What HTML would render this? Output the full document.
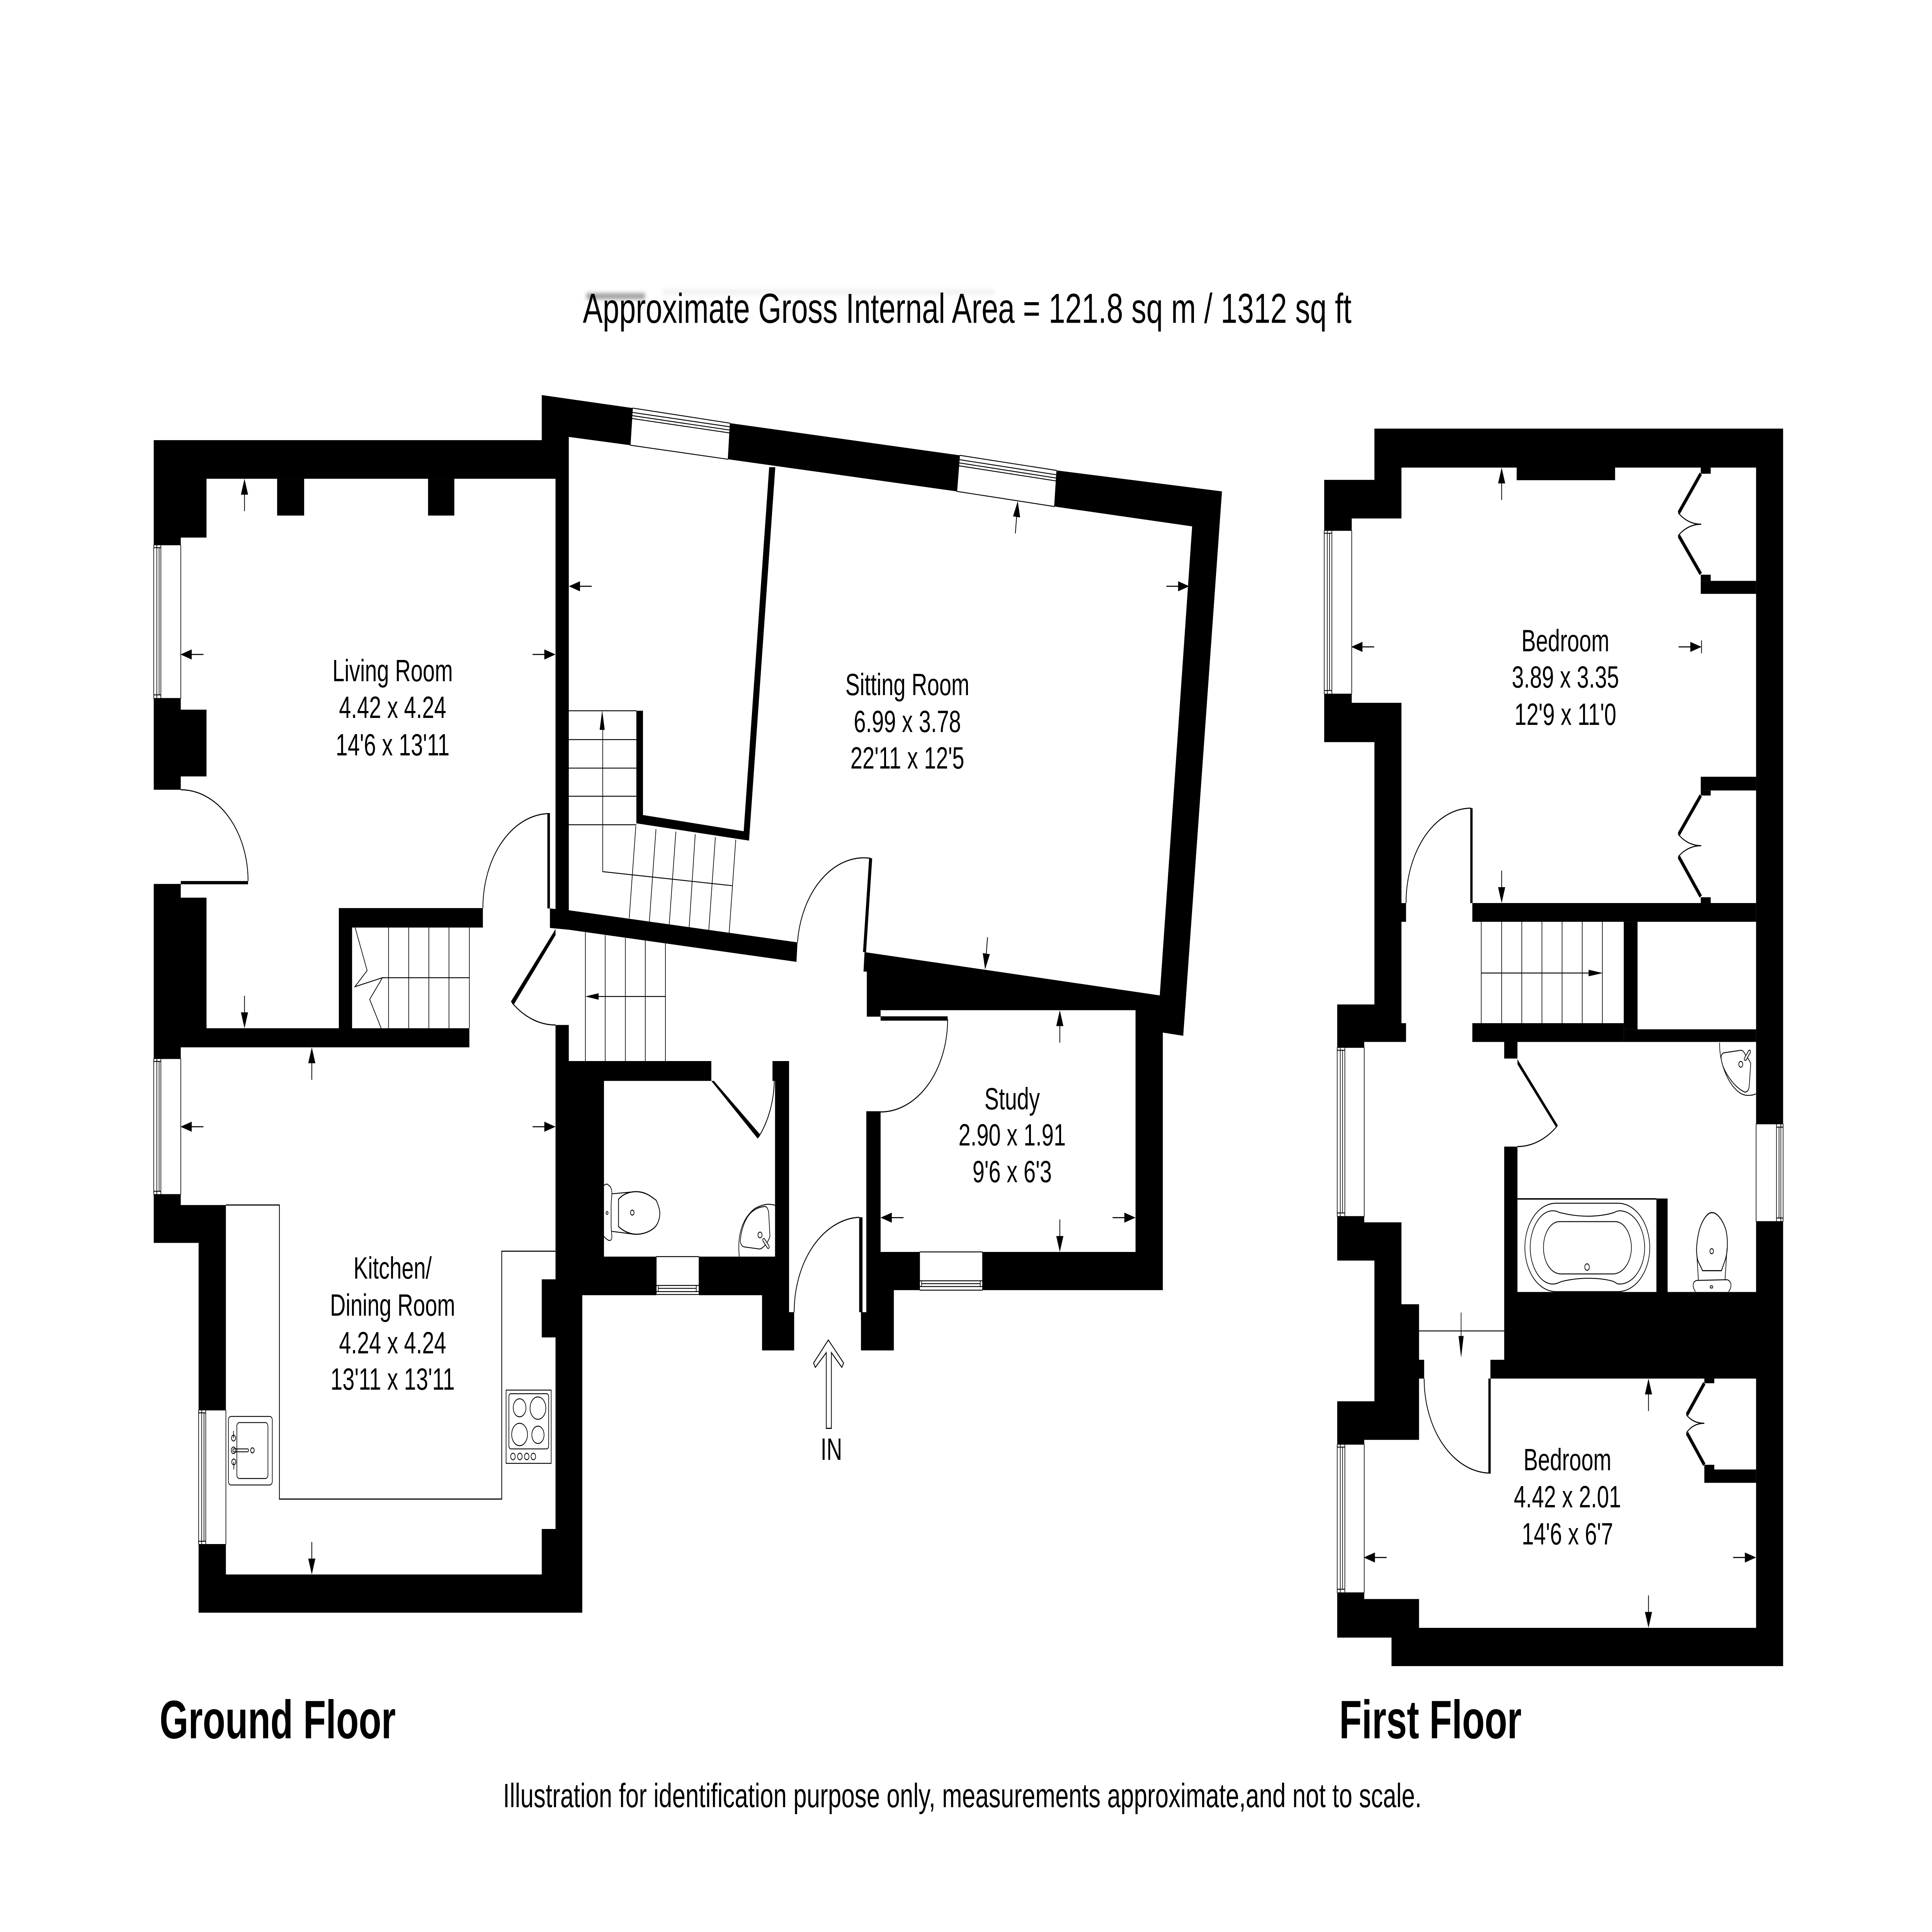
<!DOCTYPE html>
<html><head><meta charset="utf-8"><title>Floor plan</title>
<style>html,body{margin:0;padding:0;background:#fff;width:100%;height:100%;overflow:hidden}
svg{display:block;width:100vw;height:100vh}
text{font-family:"Liberation Sans",sans-serif;fill:#000}
.r{font-size:85px;text-anchor:middle}
.l{fill:none;stroke:#000;stroke-width:3}
.t{fill:none;stroke:#000;stroke-width:2.5}
.h{fill:none;stroke:#000;stroke-width:11}
</style></head><body>
<svg xmlns="http://www.w3.org/2000/svg" viewBox="0 0 7578 5355" preserveAspectRatio="none">
<defs>
<filter id="b" x="-10%" y="-200%" width="120%" height="500%"><feGaussianBlur stdDeviation="7"/></filter>
<g id="a"><polygon points="0,0 14,44 -14,44" fill="#000"/><line x1="0" y1="40" x2="0" y2="90" stroke="#000" stroke-width="3"/></g>
</defs>
<rect width="7578" height="5355" fill="#fff"/>

<!-- ghost -->
<g filter="url(#b)"><rect x="2300" y="815" width="230" height="12" fill="#777"/><rect x="2600" y="808" width="1300" height="4" fill="#ccc"/></g>

<!-- TEXT -->
<text x="2286" y="895" font-size="116" textLength="3015" lengthAdjust="spacingAndGlyphs">Approximate Gross Internal Area = 121.8 sq m / 1312 sq ft</text>
<text x="626" y="4818" font-size="150" font-weight="bold" textLength="926" lengthAdjust="spacingAndGlyphs">Ground Floor</text>
<text x="5253" y="4818" font-size="150" font-weight="bold" textLength="715" lengthAdjust="spacingAndGlyphs">First Floor</text>
<text x="1973" y="5009" font-size="93" textLength="3603" lengthAdjust="spacingAndGlyphs">Illustration for identification purpose only, measurements approximate,and not to scale.</text>

<text class="r" x="1540" y="1888">Living Room</text><text class="r" x="1540" y="1990">4.42 x 4.24</text><text class="r" x="1540" y="2094">14'6 x 13'11</text>
<text class="r" x="3559" y="1927">Sitting Room</text><text class="r" x="3559" y="2029">6.99 x 3.78</text><text class="r" x="3559" y="2130">22'11 x 12'5</text>
<text class="r" x="3970" y="3075">Study</text><text class="r" x="3970" y="3175">2.90 x 1.91</text><text class="r" x="3970" y="3277">9'6 x 6'3</text>
<text class="r" x="1540" y="3544">Kitchen/</text><text class="r" x="1540" y="3647">Dining Room</text><text class="r" x="1540" y="3751">4.24 x 4.24</text><text class="r" x="1540" y="3852">13'11 x 13'11</text>
<text class="r" x="6140" y="1805">Bedroom</text><text class="r" x="6140" y="1906">3.89 x 3.35</text><text class="r" x="6140" y="2009">12'9 x 11'0</text>
<text class="r" x="6148" y="4075">Bedroom</text><text class="r" x="6148" y="4178">4.42 x 2.01</text><text class="r" x="6148" y="4281">14'6 x 6'7</text>
<text class="r" x="3261" y="4046">IN</text>

<!-- GROUND FLOOR WALLS -->
<g fill="#000">
<polygon points="603,1220 2125,1220 2125,1095 2481,1131 2472,1234 2231,1211 2231,2527 2179,2527 2179,1327 810,1327 810,1490 709,1490 709,1510 603,1510"/>
<rect x="1087" y="1327" width="106" height="102"/><rect x="1679" y="1327" width="103" height="102"/>
<polygon points="2864,1173 3764,1262 3753,1362 2856,1273"/>
<polygon points="4145,1304 4793,1362 4641,2871 4561,2862 4561,3576 3854,3576 3854,3470 4454,3470 4454,2800 3454,2800 3454,2818 3400,2818 3400,2693 3387,2693 3391,2639 4549,2759 4676,1459 4136,1404"/>
<polygon points="3398,3080 3454,3080 3454,3470 3607,3470 3607,3576 3506,3576 3506,3743 3377,3743 3377,3637 3398,3637"/>
<polygon points="2157,2518 2231,2523 3128,2612 3124,2666 2231,2577 2157,2572"/>
<polygon points="3017,1295 3041,1295 2938,2330 2496,2282 2496,1970 2522,1970 2522,2259 2917,2304"/>
<polygon points="603,1936 709,1936 709,1967 810,1967 810,2152 709,2152 709,2189 603,2189"/>
<polygon points="603,2450 709,2450 709,2488 810,2488 810,2850 1329,2850 1329,2517 1894,2517 1894,2571 1381,2571 1381,2850 1841,2850 1841,2903 709,2903 709,2934 603,2934"/>
<polygon points="603,3311 709,3311 709,3340 886,3340 886,3908 779,3908 779,3445 603,3445"/>
<polygon points="2179,2841 2231,2841 2231,2941 2790,2941 2790,2996 2369,2996 2369,3483 2574,3483 2574,3590 2284,3590 2284,4470 779,4470 779,4281 886,4281 886,4364 2125,4364 2125,4238 2179,4238 2179,3707 2125,3707 2125,3546 2179,3546"/>
<polygon points="3030,2941 3095,2941 3095,3637 3115,3637 3115,3743 2989,3743 2989,3590 2742,3590 2742,3483 3040,3483 3040,2996 3030,2996"/>
<!-- door leaves -->
<rect x="709" y="2442" width="264" height="9"/>
<rect x="2147" y="2255" width="10" height="263"/>
<rect x="3454" y="2817" width="263" height="12"/>
<rect x="3370" y="3374" width="13" height="263"/>
<polygon points="3409,2379 3421,2379 3397,2639 3385,2639"/>
<polygon points="2179,2575 2179,2592 2014,2786 2004,2776"/>
<polygon points="2790,2996 2800,2996 2982,3145 2972,3156"/>

<!-- FIRST FLOOR WALLS -->
<polygon points="5391,1188 6994,1188 6994,3115 6888,3115 6888,1296 6335,1296 6335,1331 5949,1331 5949,1296 5497,1296 5497,1437 5302,1437 5302,1470 5194,1470 5194,1330 5391,1330"/>
<polygon points="5194,1924 5302,1924 5302,1948 5497,1948 5497,2503 5515,2503 5515,2555 5497,2555 5497,2836 5515,2836 5515,2888 5351,2888 5351,2903 5245,2903 5245,2784 5391,2784 5391,2057 5194,2057"/>
<polygon points="5245,3372 5351,3372 5351,3388 5497,3388 5497,3615 5566,3615 5566,3769 5586,3769 5586,3821 5566,3821 5566,3991 5351,3991 5351,4003 5245,4003 5245,3884 5391,3884 5391,3494 5245,3494"/>
<polygon points="6888,3386 6994,3386 6994,4618 5458,4618 5458,4539 5245,4539 5245,4415 5351,4415 5351,4432 5566,4432 5566,4512 6888,4512 6888,3821 5846,3821 5846,3769 5900,3769 5900,3178 5952,3178 5952,3581 6497,3581 6497,3322 6541,3322 6541,3581 6888,3581"/>
<rect x="5775" y="2503" width="1113" height="52"/>
<rect x="6369" y="2555" width="54" height="298"/>
<rect x="5775" y="2836" width="594" height="52"/>
<rect x="6369" y="2853" width="519" height="35"/>
<rect x="5900" y="2888" width="52" height="46"/>
<rect x="5767" y="2240" width="9" height="263"/>
<rect x="5838" y="3821" width="9" height="262"/>
<polygon points="5952,2936 5952,2950 6104,3125 6110,3119"/>
<!-- cupboards -->
<rect x="6671" y="1296" width="39" height="17"/>
<rect x="6671" y="1593" width="39" height="17"/><rect x="6671" y="1610" width="217" height="36"/>
<rect x="6671" y="2153" width="217" height="38"/><rect x="6671" y="2191" width="39" height="14"/>
<rect x="6671" y="2487" width="39" height="16"/>
<rect x="6685" y="3821" width="39" height="13"/>
<rect x="6685" y="4060" width="39" height="13"/><rect x="6685" y="4073" width="203" height="37"/>
</g>
<g class="h">
<path d="M6671,1313 L6585,1421 M6585,1485 L6671,1591 M6671,2205 L6585,2312 M6585,2375 L6671,2485 M6685,3834 L6617,3921 M6617,3972 L6685,4060"/>
</g>

<!-- Door arcs -->
<g class="l">
<path d="M709,2189 A264,253 0 0 1 973,2442"/>
<path d="M2157,2255 A263,262 0 0 0 1894,2517"/>
<path d="M2009,2780 A265,265 0 0 0 2179,2841"/>
<path d="M3128,2612 A262,262 0 0 1 3415,2379"/>
<path d="M3717,2825 A263,257 0 0 1 3454,3082"/>
<path d="M3115,3637 A265,263 0 0 1 3370,3374"/>
<path d="M2975,3152 A245,245 0 0 0 3037,2996"/>
<path d="M5515,2503 A255,263 0 0 1 5770,2240"/>
<path d="M6108,3121 A242,242 0 0 1 5952,3178"/>
<path d="M5586,3821 A261,262 0 0 0 5847,4083"/>
<path d="M6582,1421 Q6620,1453 6673,1453 Q6620,1453 6582,1485"/>
<path d="M6582,2312 Q6620,2344 6673,2344 Q6620,2344 6582,2375"/>
<path d="M6614,3921 Q6640,3945 6685,3945 Q6640,3945 6614,3972"/>
</g>

<!-- Windows -->
<g class="t">
<path d="M709,1510 V1936 M603,1510 H709 M603,1936 H709 M603,1510 V1936 M615,1510 V1936 M624,1518 V1926 M631,1510 V1936 M603,1518 H631 M603,1926 H631"/>
<path d="M709,2934 V3311 M603,2934 H709 M603,3311 H709 M603,2934 V3311 M615,2934 V3311 M624,2942 V3302 M631,2934 V3311 M603,2942 H631 M603,3302 H631"/>
<path d="M886,3908 V4281 M779,3908 H886 M779,4281 H886 M779,3908 V4281 M791,3908 V4281 M800,3916 V4272 M807,3908 V4281 M779,3916 H807 M779,4272 H807"/>
<path d="M5302,1470 V1924 M5194,1470 H5302 M5194,1924 H5302 M5194,1470 V1924 M5206,1470 V1924 M5215,1478 V1914 M5224,1470 V1924 M5194,1478 H5224 M5194,1914 H5224"/>
<path d="M5351,2903 V3372 M5245,2903 H5351 M5245,3372 H5351 M5245,2903 V3372 M5257,2903 V3372 M5266,2911 V3362 M5275,2903 V3372 M5245,2911 H5275 M5245,3362 H5275"/>
<path d="M5351,4003 V4415 M5245,4003 H5351 M5245,4415 H5351 M5245,4003 V4415 M5257,4003 V4415 M5266,4011 V4405 M5275,4003 V4415 M5245,4011 H5275 M5245,4405 H5275"/>
<path d="M6888,3115 V3386 M6888,3115 H6994 M6888,3386 H6994 M6994,3115 V3386 M6968,3115 V3386 M6978,3124 V3376 M6985,3115 V3386 M6968,3124 H6994 M6968,3376 H6994"/>
<path d="M2574,3483 H2742 M2574,3483 V3588 M2742,3483 V3588 M2574,3563 H2742 M2582,3571 H2731 M2574,3580 H2742 M2574,3588 H2742 M2582,3563 V3580 M2731,3563 V3580"/>
<path d="M3607,3470 H3854 M3607,3470 V3576 M3854,3470 V3576 M3607,3550 H3854 M3615,3558 H3845 M3607,3566 H3854 M3607,3576 H3854 M3615,3550 V3566 M3845,3550 V3566"/>
<path d="M2472,1234 L2856,1273 M2472,1234 L2481,1131 M2856,1273 L2864,1173 M2481,1131 L2864,1173 M2480,1143 L2863,1183 M2480,1152 L2862,1192 M2479,1160 L2862,1200"/>
<path d="M3753,1362 L4136,1404 M3753,1362 L3764,1262 M4136,1404 L4145,1304 M3764,1262 L4145,1304 M3763,1274 L4144,1316 M3762,1283 L4143,1325 M3761,1291 L4142,1333"/>
</g>

<!-- Stairs -->
<g class="t">
<path d="M2231,1970 H2496 M2231,2050 H2496 M2231,2129 H2496 M2231,2207 H2496 M2231,2286 H2496"/>
<path d="M2364,1990 V2416 L2873,2455"/>
<path d="M2494,2289 L2468,2545 M2573,2298 L2547,2554 M2651,2305 L2625,2562 M2727,2312 L2703,2571 M2806,2320 L2780,2580 M2886,2327 L2860,2586"/>
<path d="M2296,2584 V2941 M2374,2592 V2941 M2453,2600 V2941 M2531,2607 V2941 M2610,2615 V2941 M2330,2762 H2610"/>
<path d="M1524,2571 V2850 M1603,2571 V2850 M1682,2571 V2850 M1761,2571 V2850 M1841,2571 V2850 M1500,2710 H1841"/>
<path d="M1393,2571 L1440,2690 L1392,2735 L1500,2710 L1450,2770 L1495,2850"/>
<path d="M5810,2555 V2836 M5890,2555 V2836 M5969,2555 V2836 M6048,2555 V2836 M6127,2555 V2836 M6206,2555 V2836 M6285,2555 V2836 M5810,2697 H6240"/>
<path d="M5566,3689 H5900 M5731,3638 V3710"/>
</g>
<g fill="#000">
<polygon points="2362,1969 2372,2023 2352,2023"/>
<polygon points="2296,2762 2348,2753 2348,2771"/>
<polygon points="6287,2697 6231,2688 6231,2706"/>
<polygon points="5731,3763 5721,3703 5741,3703"/>
</g>

<!-- Arrows -->
<use href="#a" transform="translate(959,1327)"/>
<use href="#a" transform="translate(708,1814) rotate(270)"/>
<use href="#a" transform="translate(2179,1814) rotate(90)"/>
<use href="#a" transform="translate(959,2850) rotate(180)"/>
<use href="#a" transform="translate(1223,2903)"/>
<use href="#a" transform="translate(708,3123) rotate(270)"/>
<use href="#a" transform="translate(2179,3123) rotate(90)"/>
<use href="#a" transform="translate(1223,4364) rotate(180)"/>
<use href="#a" transform="translate(2231,1625) rotate(270)"/>
<use href="#a" transform="translate(3992,1389) rotate(6)"/>
<use href="#a" transform="translate(4665,1625) rotate(90)"/>
<use href="#a" transform="translate(3864,2687) rotate(186)"/>
<use href="#a" transform="translate(4157,2800)"/>
<use href="#a" transform="translate(3454,3375) rotate(270)"/>
<use href="#a" transform="translate(4454,3375) rotate(90)"/>
<use href="#a" transform="translate(4157,3470) rotate(180)"/>
<use href="#a" transform="translate(5890,1296)"/>
<use href="#a" transform="translate(5300,1793) rotate(270)"/>
<use href="#a" transform="translate(6674,1793) rotate(90)"/>
<use href="#a" transform="translate(5890,2503) rotate(180)"/>
<use href="#a" transform="translate(6466,3821)"/>
<use href="#a" transform="translate(5349,4317) rotate(270)"/>
<use href="#a" transform="translate(6888,4317) rotate(90)"/>
<use href="#a" transform="translate(6466,4512) rotate(180)"/>
<line x1="6674" y1="1775" x2="6674" y2="1811" stroke="#000" stroke-width="3"/>

<!-- IN arrow -->
<polygon points="3249,3714 3309,3778 3302,3790 3261,3749 3261,3959 3241,3959 3241,3749 3198,3790 3191,3778" fill="#fff" stroke="#000" stroke-width="3"/>

<!-- Kitchen counter -->
<path class="l" d="M886,3340 H1096 V4155 H1968 V3468 H2179"/>

<!-- Sink kitchen -->
<g class="t" stroke-width="3">
<rect x="896" y="3926" width="172" height="190" rx="10"/>
<rect x="929" y="3943" width="122" height="155" rx="10"/>
<circle cx="916" cy="3986" r="8"/><circle cx="916" cy="4020" r="9"/><circle cx="917" cy="4052" r="8"/>
<rect x="913" y="4016" width="62" height="8" rx="4"/>
<circle cx="990" cy="4020" r="7"/>
<path d="M916,3966 V3986 M917,4052 V4073"/>
</g>
<!-- Hob -->
<g class="t" stroke-width="3">
<rect x="1985" y="3853" width="177" height="203"/>
<rect x="1996" y="3863" width="156" height="153" rx="8"/>
<circle cx="2038" cy="3902" r="25"/><circle cx="2110" cy="3903" r="31"/><circle cx="2038" cy="3976" r="31"/><circle cx="2110" cy="3977" r="24"/>
<circle cx="2012" cy="4037" r="9"/><circle cx="2039" cy="4037" r="9"/><circle cx="2066" cy="4037" r="9"/><circle cx="2092" cy="4037" r="9"/>
</g>
<!-- GF WC -->
<g class="t" stroke-width="2.5">
<path d="M2369,3286 Q2380,3278 2388,3286 Q2400,3290 2400,3309 L2397,3337 V3400 L2400,3427 Q2400,3440 2388,3438 Q2380,3436 2369,3427"/>
<circle cx="2381" cy="3362" r="4"/>
<path d="M2400,3309 L2478,3304 M2400,3413 L2487,3421"/>
<path d="M2426,3324 C2450,3305 2480,3303 2496,3303 C2535,3303 2560,3320 2574,3327 C2585,3345 2588,3355 2588,3362 C2588,3372 2585,3385 2574,3397 C2560,3410 2530,3421 2496,3421 C2470,3421 2445,3412 2426,3400 Z" stroke-width="3"/>
<circle cx="2480" cy="3361" r="7"/>
<path d="M3040,3341 C3015,3335 2990,3338 2960,3350 C2915,3375 2890,3420 2900,3483"/>
<path d="M3001,3344 C2975,3345 2950,3355 2935,3370 C2915,3390 2905,3420 2904,3440 C2905,3450 2912,3455 2918,3456 L2980,3462 C2995,3460 3015,3440 3020,3427 L3015,3360 C3012,3350 3008,3345 3001,3344 Z"/>
<circle cx="2981" cy="3423" r="8"/>
<line x1="2996" y1="3437" x2="3013" y2="3456" stroke-width="11" stroke-linecap="round"/>
<line x1="2996" y1="3437" x2="3013" y2="3456" stroke="#fff" stroke-width="6" stroke-linecap="round"/>
</g>

<!-- Bath -->
<g class="t" stroke-width="2.5">
<path d="M5952,3323 H6497" stroke-width="4"/>
<path d="M6104,3335 H6345 C6420,3335 6471,3395 6471,3458 C6471,3520 6420,3580 6345,3580 H6104 C6030,3580 5981,3520 5981,3458 C5981,3395 6030,3335 6104,3335 Z"/>
<path d="M6091,3356 C6110,3356 6115,3362 6125,3362 C6160,3368 6195,3371 6228,3371 C6260,3371 6300,3368 6330,3361 C6340,3358 6345,3356 6352,3356 C6410,3356 6451,3405 6451,3458 C6451,3510 6410,3559 6352,3559 C6340,3559 6335,3553 6325,3551 C6295,3545 6260,3543 6228,3543 C6195,3543 6160,3546 6125,3552 C6115,3555 6105,3559 6091,3559 C6040,3559 6002,3510 6002,3458 C6002,3405 6040,3356 6091,3356 Z"/>
<path d="M6117,3386 H6335 C6375,3386 6399,3425 6399,3458 C6399,3495 6370,3531 6325,3531 H6124 C6080,3531 6054,3495 6054,3458 C6054,3420 6080,3386 6117,3386 Z"/>
<circle cx="6225" cy="3512" r="9"/>
<!-- FF WC -->
<path d="M6715,3361 C6695,3361 6675,3385 6665,3410 C6655,3440 6650,3470 6660,3495 L6678,3522 H6752 L6768,3490 C6778,3465 6778,3430 6768,3405 C6755,3380 6735,3361 6715,3361 Z" stroke-width="3"/>
<circle cx="6714" cy="3468" r="7"/>
<path d="M6654,3460 L6662,3549 M6774,3460 L6766,3549"/>
<path d="M6650,3580 C6640,3570 6635,3553 6655,3549 L6775,3547 C6795,3553 6792,3570 6780,3580"/>
<rect x="6708" y="3564" width="10" height="6" rx="2"/>
<!-- FF sink -->
<path d="M6745,2890 C6742,2960 6800,3040 6860,3036 Q6875,3036 6887,3032"/>
<path d="M6763,2918 L6829,2911 Q6838,2912 6845,2922 L6862,2940 L6867,2948 L6861,3011 Q6858,3027 6844,3027 C6800,3015 6750,2960 6751,2930 Q6752,2920 6763,2918 Z"/>
<circle cx="6828" cy="2950" r="8"/>
<line x1="6846" y1="2935" x2="6862" y2="2915" stroke-width="11" stroke-linecap="round"/>
<line x1="6846" y1="2935" x2="6862" y2="2915" stroke="#fff" stroke-width="6" stroke-linecap="round"/>
</g>
</svg>
</body></html>
